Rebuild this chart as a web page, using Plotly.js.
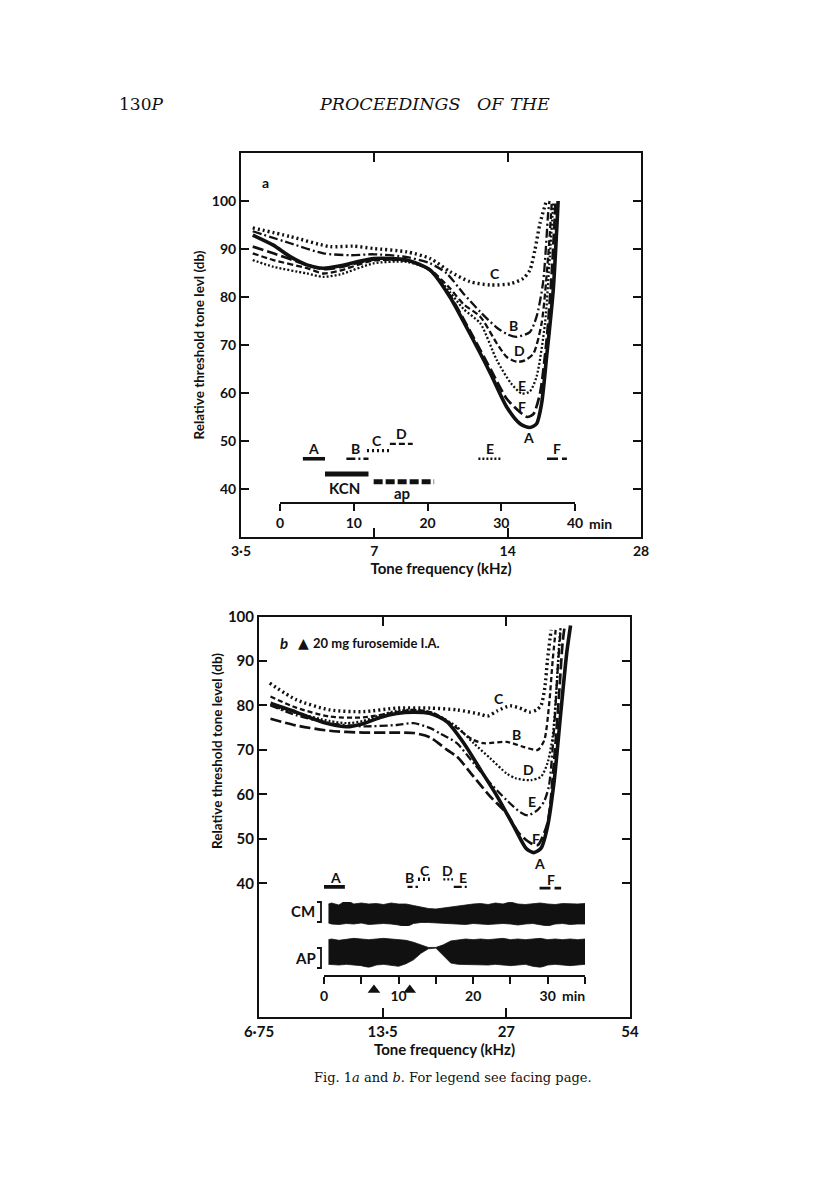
<!DOCTYPE html>
<html>
<head>
<meta charset="utf-8">
<script src="https://cdn.plot.ly/plotly-3.0.1.min.js"></script>
<style>
html,body{margin:0;padding:0;background:#fff;}
#chart{width:816px;height:1198px;}
</style>
</head>
<body>
<div id="chart"></div>
<script>
// ---------------- DATA : panel a (frequency kHz, threshold dB) ----------------
const aFreqA = [3.72,4.14,4.52,4.93,5.37,5.86,6.97,8.29,9.36,10.37,11.5,12.8,13.93,14.93,15.71,16.27,16.7,17.14,17.74,18.2];
const aDbA   = [92.9,90.8,88.4,86.7,86.0,86.5,88.0,87.7,85.6,80.0,72.4,64.1,57.1,53.6,52.8,53.6,57.8,67.5,81.4,100];
const aFreqB = [3.72,4.52,5.37,6.2,6.97,8.29,9.36,10.2,11.13,12.14,13.24,14.0,14.68,15.71,16.27,16.84,17.28,17.4];
const aDbB   = [93.7,91.2,89.1,88.7,88.9,88.3,87.0,84.9,80.7,76.9,73.6,72.2,71.7,72.7,75.9,83.2,97.5,100];
const aFreqC = [3.72,4.52,5.56,6.28,6.97,8.29,9.36,10.37,11.5,12.8,14.25,15.19,15.71,16.13,16.56,17.14];
const aDbC   = [94.4,92.6,90.5,90.6,90.1,89.4,88.0,85.3,83.2,82.5,82.8,83.9,85.6,89.8,95.3,100.2];
const aFreqD = [3.72,4.14,4.93,5.37,5.86,6.97,8.29,9.36,10.37,11.13,12.14,13.24,13.93,14.68,15.3,16.0,16.7,17.28,17.6];
const aDbD   = [89.1,87.7,86.0,84.9,85.5,87.6,87.5,85.7,81.8,78.5,75.9,70.3,67.5,66.5,66.8,68.2,74.5,88.4,99.5];
const aFreqE = [3.72,4.14,4.93,5.37,5.86,6.97,8.29,9.36,10.37,11.13,12.14,13.24,14.25,15.06,15.7,16.27,17.0,17.43,17.74];
const aDbE   = [87.7,86.3,84.9,84.2,84.7,87.0,87.3,85.6,81.0,77.5,74.5,66.8,62.0,59.9,60.3,63.4,74.5,88.4,99.5];
const aFreqF = [3.72,4.14,4.93,5.37,5.86,6.97,8.29,9.36,10.37,11.5,12.8,13.93,14.93,15.5,16.0,16.56,17.14,17.6,17.95];
const aDbF   = [90.5,89.1,86.7,85.8,86.2,87.8,87.6,85.5,80.3,73.0,65.0,58.8,56.0,55.0,55.6,59.9,71.0,84.9,99.5];

// panel a: time marks (minutes) and their level on the dB scale
const aSegNames = ['A','B','C','D','E','F'];
const aSegStart = [3.1, 9.0, 11.8, 14.9, 26.9, 36.2];
const aSegEnd   = [6.1, 12.0, 15.1, 18.0, 29.9, 38.9];
const aSegLevel = [46.3, 46.3, 48.0, 49.4, 46.3, 46.3];
const aLabelTime = [4.5, 10.2, 13.1, 16.5, 28.5, 37.5];
const kcnStart = 6.1, kcnEnd = 12.0, kcnLevel = 43.1;
const apStart = 12.7, apEnd = 20.9, apLevel = 41.5;
const aTimeTicks = [0,10,20,30,40];
const aFreqTicks = [3.5,7,14,28];
const aFreqTickText = ['3·5','7','14','28'];
const aDbTicks = [40,50,60,70,80,90,100];
// curve letter positions (kHz, dB)
const aCurveLabelF  = [15.6, 14.42, 13.1, 14.9, 15.06, 15.06];
const aCurveLabelDb = [50.8, 74.1, 84.9, 68.8, 61.6, 57.1];

// ---------------- DATA : panel b ----------------
const bFreqA = [7.2,8.31,9.13,10.03,11.02,12.1,13.3,14.61,16.05,17.63,19.37,21.28,23.37,25.67,28.2,30.2,31.5,32.8,34.0,35.3,36.6,37.9,38.7];
const bDbA   = [80.5,78.5,77.0,75.8,75.2,75.9,77.3,78.2,78.5,78.2,76.3,71.5,65.5,59.5,52.7,47.8,46.9,47.9,52.7,63.0,78.0,92.0,98.0];
const bFreqB = [7.2,8.31,10.03,12.1,14.61,16.05,17.63,18.63,20.46,22.48,23.8,27.05,29.7,32.2,33.4,34.3,35.0,35.6];
const bDbB   = [82.0,79.5,77.5,77.3,78.5,79.0,78.5,77.5,74.9,72.2,71.5,71.8,70.7,70.0,72.2,80.0,90.0,97.0];
const bFreqC = [7.17,8.31,10.03,12.1,14.61,17.63,20.5,23.37,24.3,25.7,27.6,29.5,30.7,32.0,32.8,33.5,34.0,34.7];
const bDbC   = [85.0,81.3,79.0,78.6,79.4,79.4,79.0,78.0,77.6,78.8,79.9,79.2,78.5,79.0,80.0,84.0,90.2,97.0];
const bFreqD = [7.2,8.31,10.03,11.02,12.1,13.3,14.61,16.05,17.63,18.63,20.46,22.48,24.68,27.05,28.5,30.98,32.8,34.0,35.0,35.7,36.3,36.6];
const bDbD   = [80.0,78.3,76.5,76.0,76.5,77.8,78.8,79.0,78.5,77.5,75.2,71.5,68.1,64.7,63.6,63.2,64.0,67.0,73.0,82.7,94.0,97.5];
const bFreqE = [7.2,8.31,10.03,12.1,14.61,16.05,17.63,18.63,20.46,22.48,24.68,27.05,29.2,30.5,32.2,33.4,34.3,35.3,36.0,36.6];
const bDbE   = [80.0,77.8,76.0,75.3,75.6,76.0,74.9,73.7,71.5,67.0,62.5,58.7,56.0,55.3,56.5,58.5,62.0,75.0,88.0,97.0];
const bFreqF = [7.2,8.31,10.03,12.1,14.61,16.05,17.63,19.37,20.46,22.48,24.68,27.05,29.0,30.98,32.2,34.0,35.3,36.3,37.0,37.4];
const bDbF   = [77.0,75.5,74.3,73.9,73.9,73.8,72.8,70.0,68.5,64.0,59.5,55.7,51.2,49.0,48.6,53.5,67.7,82.7,94.0,97.5];

const bSegNames = ['A','B','C','D','E','F'];
const bSegStart = [0.0, 11.2, 12.6, 16.0, 17.4, 28.9];
const bSegEnd   = [2.8, 12.6, 14.2, 17.3, 19.2, 31.8];
const bSegLevel = [39.2, 39.2, 40.9, 40.9, 39.2, 38.9];
const bLabelTime = [1.5, 11.5, 13.5, 16.5, 18.7, 30.5];
const bArrowTimes = [6.7, 11.5];
const bArrowLevel = 16.0;
const bTimeTicks = [0,5,10,15,20,25,30,35];
const bTimeTickText = ['0','','10','','20','','30',''];
const bFreqTicks = [6.75,13.5,27,54];
const bFreqTickText = ['6·75','13·5','27','54'];
const bDbTicks = [40,50,60,70,80,90,100];
const bCurveLabelF  = [32.5, 28.6, 25.9, 30.6, 31.2, 31.9];
const bCurveLabelDb = [44.5, 73.4, 81.6, 65.5, 58.4, 50.1];

// oscillogram envelopes (minutes, relative amplitude)
const envTime = [0.6,1,2,3,4,5,6,7,8,9,10,11,12,13,14,15,16,17,18,19,20,21,22,23,24,25,26,27,28,29,30,31,32,33,34,35];
const cmUpper = [1.0,1.1,0.9,1.4,1.0,1.1,1.0,1.05,0.95,1.1,1.0,1.0,0.85,0.7,0.55,0.5,0.6,0.75,0.85,0.95,1.0,1.05,0.95,1.1,1.0,1.2,1.0,0.95,1.05,1.1,1.0,0.95,1.05,1.0,1.0,1.05];
const cmLower = [-0.9,-1.0,-1.05,-0.95,-1.0,-0.9,-1.05,-1.0,-0.95,-1.0,-1.1,-1.3,-0.95,-0.85,-0.85,-0.9,-0.95,-1.0,-1.0,-1.05,-0.95,-1.0,-1.05,-1.0,-0.95,-1.0,-1.1,-1.0,-0.95,-1.05,-1.2,-1.0,-0.95,-1.05,-1.0,-1.0];
const apUpper = [0.95,1.0,0.9,1.0,1.05,1.0,0.95,1.0,1.05,1.0,0.95,0.9,0.75,0.55,0.35,0.35,0.55,0.85,0.95,1.0,0.95,1.0,0.95,1.0,1.05,0.95,1.0,0.95,1.0,1.05,0.95,1.0,0.95,1.0,0.95,1.0];
const apLower = [-0.95,-1.0,-1.0,-0.95,-1.0,-1.05,-1.2,-1.0,-0.95,-1.0,-1.1,-0.9,-0.6,-0.1,0.25,0.3,-0.3,-0.85,-0.95,-1.0,-0.95,-1.0,-1.0,-0.95,-1.0,-1.05,-1.0,-0.95,-1.1,-1.2,-1.0,-0.95,-1.0,-1.05,-1.0,-0.95];

// ---------------- helpers (layout positions in page pixels) ----------------
const W = 816, H = 1198;
const PX = p => p / W;
const PY = p => 1 - p / H;
const L10 = v => Math.log10(v);
const FONT = 'Lato, "Open Sans", sans-serif';
const SERIF = '"DejaVu Serif", "Liberation Serif", serif';
const BLACK = '#111';

const aStyles = {
  A: {dash: 'solid', width: 3.6},
  B: {dash: '9px,3px,2px,3px', width: 2.3},
  C: {dash: '2px,3px', width: 3.4},
  D: {dash: '6px,3px', width: 2.3},
  E: {dash: '2px,2px', width: 2.3},
  F: {dash: '11px,4px', width: 2.7}
};
const bStyles = {
  A: {dash: 'solid', width: 3.6},
  B: {dash: '5px,3px', width: 2.3},
  C: {dash: '2px,3px', width: 3.4},
  D: {dash: '2px,2px', width: 2.3},
  E: {dash: '8px,3px,2px,3px', width: 2.3},
  F: {dash: '11px,4px', width: 2.7}
};

const data = [];
function curve(name, f, db, style, xa, ya) {
  data.push({type: 'scatter', mode: 'lines', name: name, x: f, y: db, xaxis: xa, yaxis: ya,
    line: {color: BLACK, width: style.width, dash: style.dash, shape: 'spline', smoothing: 0.7},
    hoverinfo: 'skip', showlegend: false});
}
const aCurves = {A: [aFreqA, aDbA], B: [aFreqB, aDbB], C: [aFreqC, aDbC], D: [aFreqD, aDbD], E: [aFreqE, aDbE], F: [aFreqF, aDbF]};
const bCurves = {A: [bFreqA, bDbA], B: [bFreqB, bDbB], C: [bFreqC, bDbC], D: [bFreqD, bDbD], E: [bFreqE, bDbE], F: [bFreqF, bDbF]};
['C','B','D','E','F','A'].forEach(k => curve('a ' + k, aCurves[k][0], aCurves[k][1], aStyles[k], 'x', 'y'));
['C','B','D','E','F','A'].forEach(k => curve('b ' + k, bCurves[k][0], bCurves[k][1], bStyles[k], 'x3', 'y2'));

// time marks
function seg(name, t0, t1, lvl, style, xa, ya) {
  data.push({type: 'scatter', mode: 'lines', name: name, x: [t0, t1], y: [lvl, lvl], xaxis: xa, yaxis: ya,
    line: {color: BLACK, width: style.width, dash: style.dash}, hoverinfo: 'skip', showlegend: false});
}
aSegNames.forEach((n, i) => seg('a seg ' + n, aSegStart[i], aSegEnd[i], aSegLevel[i], aStyles[n], 'x2', 'y'));
seg('KCN', kcnStart, kcnEnd, kcnLevel, {dash: 'solid', width: 5}, 'x2', 'y');
seg('ap', apStart, apEnd, apLevel, {dash: '9px,3px', width: 5}, 'x2', 'y');
bSegNames.forEach((n, i) => seg('b seg ' + n, bSegStart[i], bSegEnd[i], bSegLevel[i], bStyles[n], 'x4', 'y2'));

// furosemide arrows
data.push({type: 'scatter', mode: 'markers', name: 'furosemide', x: bArrowTimes, y: bArrowTimes.map(() => bArrowLevel),
  xaxis: 'x4', yaxis: 'y2', marker: {symbol: 'triangle-up', size: 11, color: BLACK}, hoverinfo: 'skip', showlegend: false});

// oscillogram bands
function band(name, up, lo, ya) {
  data.push({type: 'scatter', mode: 'lines', name: name,
    x: envTime.concat(envTime.slice().reverse()),
    y: up.concat(lo.slice().reverse()),
    xaxis: 'x4', yaxis: ya, fill: 'toself', fillcolor: BLACK,
    line: {color: BLACK, width: 0.8}, hoverinfo: 'skip', showlegend: false});
}
band('CM', cmUpper, cmLower, 'y3');
band('AP', apUpper, apLower, 'y4');

// ---------------- annotations ----------------
const ann = [];
function txt(text, x, y, opts) {
  ann.push(Object.assign({text: text, x: x, y: y, xref: 'paper', yref: 'paper', showarrow: false,
    xanchor: 'center', yanchor: 'middle', font: {family: FONT, size: 13, color: BLACK, weight: 'bold'}}, opts || {}));
}
// header and caption
txt('130<i>P</i>', PX(117), PY(104), {xanchor: 'left', font: {family: SERIF, size: 17, color: BLACK}});
txt('<i>PROCEEDINGS</i>', PX(389), PY(104), {font: {family: SERIF, size: 17.5, color: BLACK}});
txt('<i>OF</i>', PX(490), PY(104), {font: {family: SERIF, size: 17.5, color: BLACK}});
txt('<i>THE</i>', PX(530), PY(104), {font: {family: SERIF, size: 17.5, color: BLACK}});
txt('Fig. 1<i>a</i> and <i>b</i>. For legend see facing page.', PX(453), PY(1077), {font: {family: SERIF, size: 13, color: BLACK}});

// panel labels
txt('a', PX(265), PY(182), {font: {family: FONT, size: 14, color: BLACK, weight: 'bold'}});
txt('<i>b</i>', PX(284), PY(643), {font: {family: FONT, size: 15, color: BLACK, weight: 'bold'}});
txt('▲', PX(303), PY(643), {font: {family: '"DejaVu Sans", sans-serif', size: 14, color: BLACK}});
txt('20 mg furosemide I.A.', PX(311), PY(643), {xanchor: 'left', font: {family: FONT, size: 13, color: BLACK, weight: 'bold'}});

// y title for panel b (centred on 40-100 part of the axis)
txt('Relative threshold tone level (db)', PX(217), PY(751), {textangle: -90, font: {family: FONT, size: 13.5, color: BLACK, weight: 'bold'}});

// curve letters
aSegNames.forEach((n, i) => ann.push({text: n, x: L10(aCurveLabelF[i]), y: aCurveLabelDb[i], xref: 'x', yref: 'y', showarrow: false,
  font: {family: FONT, size: 14, color: BLACK, weight: 'bold'}}));
bSegNames.forEach((n, i) => ann.push({text: n, x: L10(bCurveLabelF[i]), y: bCurveLabelDb[i], xref: 'x3', yref: 'y2', showarrow: false,
  font: {family: FONT, size: 14, color: BLACK, weight: 'bold'}}));
// time-mark letters
aSegNames.forEach((n, i) => ann.push({text: n, x: aLabelTime[i], y: aSegLevel[i], xref: 'x2', yref: 'y', yshift: 10, showarrow: false,
  font: {family: FONT, size: 14, color: BLACK, weight: 'bold'}}));
ann.push({text: 'KCN', x: 8.8, y: kcnLevel, xref: 'x2', yref: 'y', yshift: -14, showarrow: false, font: {family: FONT, size: 15, color: BLACK, weight: 'bold'}});
ann.push({text: 'ap', x: 16.5, y: apLevel, xref: 'x2', yref: 'y', yshift: -11, showarrow: false, font: {family: FONT, size: 15, color: BLACK, weight: 'bold'}});
bSegNames.forEach((n, i) => ann.push({text: n, x: bLabelTime[i], y: bSegLevel[i], xref: 'x4', yref: 'y2', yshift: 9, showarrow: false,
  font: {family: FONT, size: 14, color: BLACK, weight: 'bold'}}));
// "min" units on time axes
ann.push({text: 'min', x: 40, y: PY(523), xref: 'x2', yref: 'paper', yanchor: 'middle', xanchor: 'left', xshift: 12, showarrow: false,
  font: {family: FONT, size: 14, color: BLACK, weight: 'bold'}});
ann.push({text: 'min', x: 30, y: PY(995), xref: 'x4', yref: 'paper', yanchor: 'middle', xanchor: 'left', xshift: 12, showarrow: false,
  font: {family: FONT, size: 14, color: BLACK, weight: 'bold'}});
// CM / AP labels
txt('CM', PX(303), PY(911), {font: {family: FONT, size: 15, color: BLACK, weight: 'bold'}});
txt('AP', PX(305), PY(958), {font: {family: FONT, size: 15, color: BLACK, weight: 'bold'}});

// brackets for CM / AP
function bracket(x, y0, y1) {
  return {type: 'path', xref: 'paper', yref: 'paper',
    path: `M ${PX(x - 4)} ${PY(y0)} L ${PX(x)} ${PY(y0)} L ${PX(x)} ${PY(y1)} L ${PX(x - 4)} ${PY(y1)}`,
    line: {color: BLACK, width: 1.8}};
}

const tickFontA = {family: FONT, size: 14, color: BLACK, weight: 'bold'};
const tickFontB = {family: FONT, size: 15, color: BLACK, weight: 'bold'};
const frame = {showline: true, linewidth: 2, linecolor: BLACK, mirror: 'ticks', ticks: 'inside', tickwidth: 2, tickcolor: BLACK,
  showgrid: false, zeroline: false, automargin: false};

const layout = {
  width: W, height: H, margin: {l: 0, r: 0, t: 0, b: 0},
  paper_bgcolor: '#fff', plot_bgcolor: 'rgba(0,0,0,0)', showlegend: false,
  font: {family: FONT, color: BLACK},
  xaxis: Object.assign({}, frame, {type: 'log', range: [L10(3.5), L10(28)], domain: [PX(241), PX(641)], anchor: 'y',
    tickvals: aFreqTicks, ticktext: aFreqTickText, ticklen: 9, tickfont: tickFontA,
    title: {text: 'Tone frequency (kHz)', font: {family: FONT, size: 15, color: BLACK, weight: 'bold'}, standoff: 2}}),
  yaxis: Object.assign({}, frame, {range: [30, 110], domain: [PY(537), PY(153)], anchor: 'x',
    tickvals: aDbTicks, ticklen: 8, tickfont: tickFontA,
    title: {text: 'Relative threshold tone levl (db)', font: {family: FONT, size: 13.5, color: BLACK, weight: 'bold'}, standoff: 4}}),
  xaxis2: {domain: [PX(280), PX(575)], anchor: 'free', position: PY(502.7), range: [0, 40],
    tickvals: aTimeTicks, ticktext: ['0','10','20','30','40'], ticks: 'outside', ticklen: 7, tickwidth: 2, tickcolor: BLACK,
    showline: true, linewidth: 2, linecolor: BLACK, showgrid: false, zeroline: false, tickfont: tickFontA, automargin: false},
  xaxis3: Object.assign({}, frame, {type: 'log', range: [L10(6.75), L10(54)], domain: [PX(259), PX(630)], anchor: 'y2',
    tickvals: bFreqTicks, ticktext: bFreqTickText, ticklen: 9, tickfont: tickFontB,
    title: {text: 'Tone frequency (kHz)', font: {family: FONT, size: 15, color: BLACK, weight: 'bold'}, standoff: 2}}),
  yaxis2: Object.assign({}, frame, {range: [10, 100], domain: [PY(1016.7), PY(616.5)], anchor: 'x3',
    tickvals: bDbTicks, ticklen: 8, tickfont: tickFontB}),
  xaxis4: {domain: [PX(324), PX(585)], anchor: 'free', position: PY(975.7), range: [0, 35],
    tickvals: bTimeTicks, ticktext: bTimeTickText, ticks: 'outside', ticklen: 7, tickwidth: 2, tickcolor: BLACK,
    showline: true, linewidth: 2, linecolor: BLACK, showgrid: false, zeroline: false, tickfont: tickFontA, automargin: false},
  yaxis3: {domain: [PY(926), PY(902)], range: [-1.2, 1.2], anchor: 'x4', visible: false, showgrid: false, zeroline: false},
  yaxis4: {domain: [PY(967.6), PY(936.4)], range: [-1.2, 1.2], anchor: 'x4', visible: false, showgrid: false, zeroline: false},
  annotations: ann,
  shapes: [bracket(321, 902, 922), bracket(321, 948, 968)]
};

Plotly.newPlot('chart', data, layout, {staticPlot: true});
</script>
</body>
</html>
